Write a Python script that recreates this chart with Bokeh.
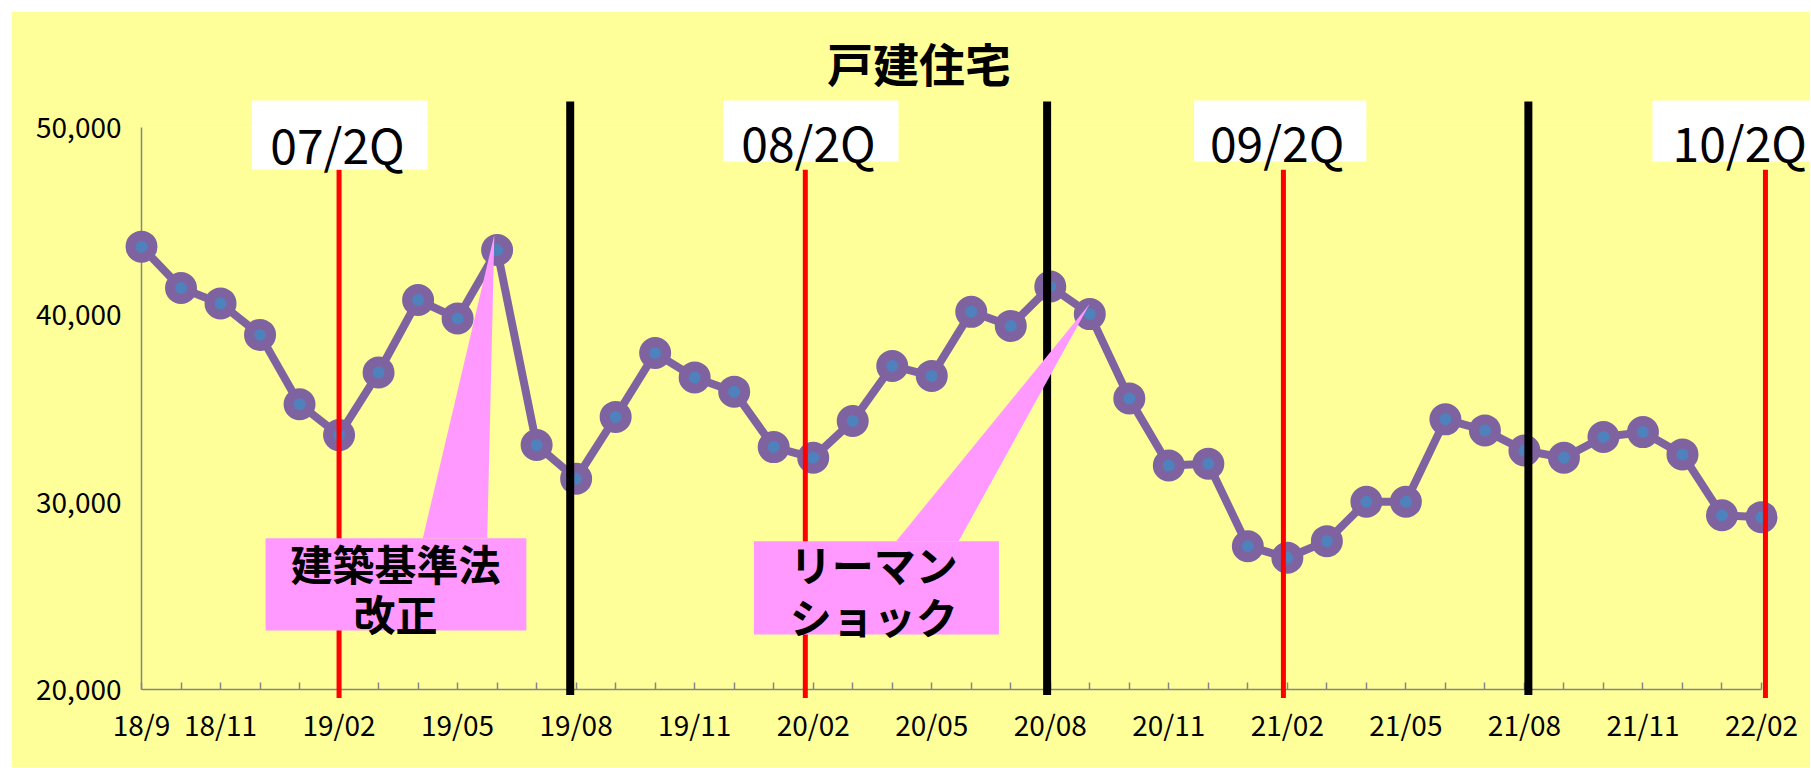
from bokeh.plotting import figure
from bokeh.models import FixedTicker, NumeralTickFormatter, Range1d, Spacer
from bokeh.layouts import column, row
from bokeh.core.properties import value
from bokeh.embed import file_html
from bokeh.resources import INLINE

# ---- data -------------------------------------------------------------
months = ["18/9", "18/10", "18/11", "18/12",
          "19/01", "19/02", "19/03", "19/04", "19/05", "19/06", "19/07", "19/08",
          "19/09", "19/10", "19/11", "19/12",
          "20/01", "20/02", "20/03", "20/04", "20/05", "20/06", "20/07", "20/08",
          "20/09", "20/10", "20/11", "20/12",
          "21/01", "21/02", "21/03", "21/04", "21/05", "21/06", "21/07", "21/08",
          "21/09", "21/10", "21/11", "21/12",
          "22/01", "22/02"]
housing = [43640, 41430, 40610, 38930, 35230, 33580, 36920, 40790, 39810, 43460,
           33050, 31250, 34550, 37960, 36660, 35900, 32940, 32370, 34330, 37270,
           36740, 40160, 39410, 41510, 40040, 35540, 31960, 32050, 27650, 27030,
           27920, 30020, 30020, 34420, 33830, 32760, 32370, 33480, 33740, 32550,
           29300, 29200]
shown_labels = ["18/9", "18/11", "19/02", "19/05", "19/08", "19/11", "20/02", "20/05",
                "20/08", "20/11", "21/02", "21/05", "21/08", "21/11", "22/02"]
y_ticks = [20000, 30000, 40000, 50000]

quarter_labels = ["07/2Q", "08/2Q", "09/2Q", "10/2Q"]
red_line_pos = [5.0, 16.8, 28.9, 41.1]
black_line_pos = [10.85, 22.92, 35.1]

title_text = ["戸建住宅"]
callout_lines = ["建築基準法", "改正", "リーマン", "ショック"]

# ---- figure -----------------------------------------------------------
YELLOW = "#FFFF99"
PURPLE = "#7F63A1"
BLUE = "#4F81BD"
PINK = "#FF99FF"
FONT = "Noto Sans CJK JP"

x = list(range(len(months)))

p = figure(width=1799, height=756, output_backend="svg", toolbar_location=None,
           x_range=Range1d(0, len(months) - 1), y_range=Range1d(20000, 50000),
           min_border_left=130, min_border_right=49, min_border_top=116,
           min_border_bottom=78)
p.background_fill_color = YELLOW
p.border_fill_color = YELLOW
p.outline_line_color = None
p.xgrid.visible = False
p.ygrid.visible = False

# axes
p.xaxis.ticker = FixedTicker(ticks=x)
p.xaxis.major_label_overrides = {i: (m if m in shown_labels else "") for i, m in enumerate(months)}
p.xaxis.major_tick_in = 7
p.xaxis.major_tick_out = 0
p.xaxis.minor_tick_line_color = None
p.xaxis.major_label_standoff = 14
for ax in (p.xaxis, p.yaxis):
    ax.axis_line_color = "#868686"
    ax.axis_line_width = 1.5
    ax.major_tick_line_color = "#868686"
    ax.major_tick_line_width = 1.5
    ax.major_label_text_font = FONT
    ax.major_label_text_font_size = "28px"
    ax.major_label_text_color = "black"
p.yaxis.ticker = FixedTicker(ticks=y_ticks)
p.yaxis.formatter = NumeralTickFormatter(format="0,0")
p.yaxis.major_tick_in = 0
p.yaxis.major_tick_out = 0
p.yaxis.minor_tick_line_color = None
p.yaxis.major_label_standoff = 20

# series
p.line(x, housing, line_color=PURPLE, line_width=8, level="overlay")
p.scatter(x, housing, size=22, fill_color=BLUE, line_color=PURPLE, line_width=10,
          level="overlay")

# vertical marker lines
p.segment(x0=red_line_pos, y0=[19540] * 4, x1=red_line_pos, y1=[47750] * 4,
          line_color="red", line_width=5, level="overlay")
p.segment(x0=black_line_pos, y0=[19700] * 3, x1=black_line_pos, y1=[51390] * 3,
          line_color="black", line_width=8, level="overlay")

# callouts
p.patches(xs=[[8.93, 7.12, 8.75], [24.0, 19.1, 20.68]],
          ys=[[44280, 28075, 28075], [40590, 27915, 27915]],
          fill_color=PINK, line_color=None, level="overlay")
p.quad(left=[3.14, 15.5], right=[9.74, 21.7], bottom=[23155, 22940], top=[28075, 27915],
       fill_color=PINK, line_color=None, level="overlay")
p.text(x=[6.43, 6.43, 18.53, 18.53], y=[26779, 24110, 26726, 23950], text=callout_lines,
       text_font=value(FONT), text_font_style="bold", text_font_size="42px",
       text_align="center", text_baseline="middle",
       text_color="black", level="overlay")

# quarter labels
p.quad(left=[2.79, 14.72, 26.64, 38.24], right=[7.24, 19.16, 31.0, 42.5],
       bottom=[47754, 48182, 48182, 48182], top=[51444] * 4,
       fill_color="white", line_color=None, level="overlay")
p.text(x=[4.96, 16.88, 28.74, 40.45], y=[49198, 49300, 49300, 49300], text=quarter_labels,
       text_font=value(FONT), text_font_size="48px", text_align="center",
       text_baseline="middle", text_color="black", level="overlay")

# title
p.text(x=[19.68], y=[53470], text=title_text, text_font=value(FONT),
       text_font_style="bold", text_font_size="46px", text_align="center",
       text_baseline="middle", text_color="black", level="overlay")

layout = column(Spacer(height=11), row(Spacer(width=11), p))
open("out.html", "w").write(file_html(layout, INLINE))
